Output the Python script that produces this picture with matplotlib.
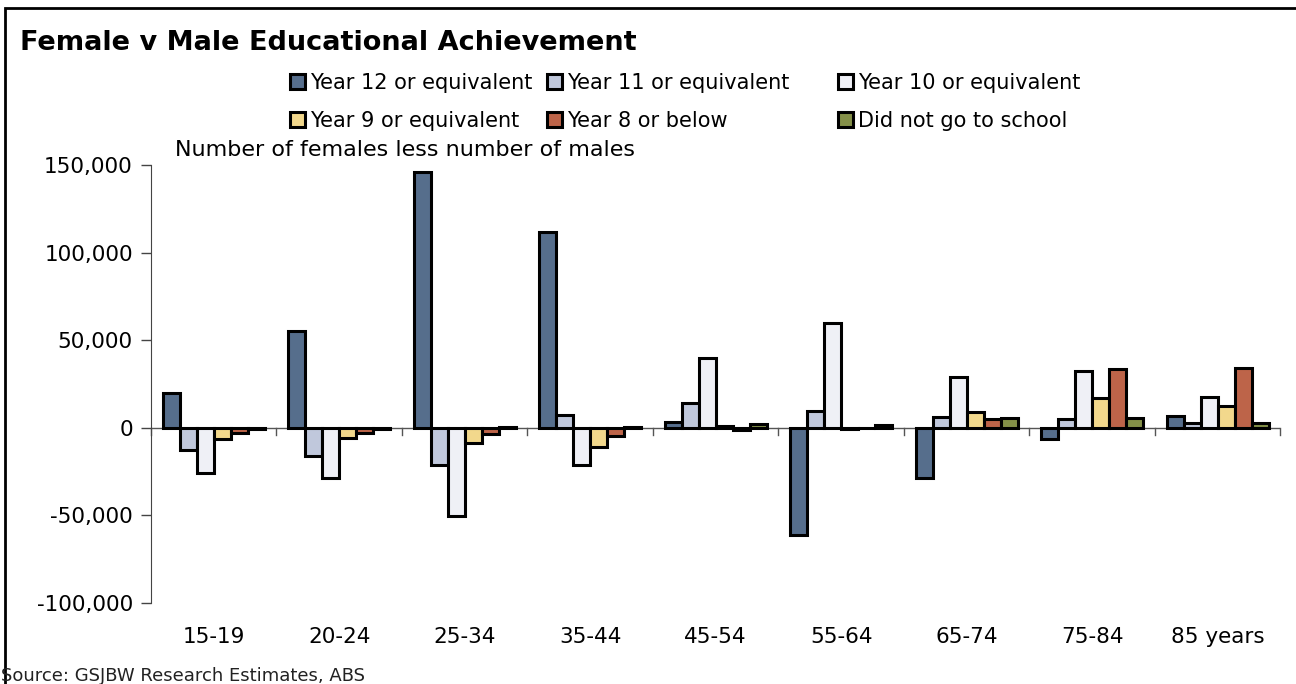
# -*- coding: utf-8 -*-

import numpy as np
import matplotlib as mpl
mpl.use('Agg')
import matplotlib.pyplot as plt
from matplotlib.patches import Rectangle
from matplotlib.ticker import FuncFormatter

age_groups = ['15-19', '20-24', '25-34', '35-44', '45-54', '55-64', '65-74', '75-84', '85 years']

series_names = ['Year 12 or equivalent', 'Year 11 or equivalent', 'Year 10 or equivalent',
                'Year 9 or equivalent', 'Year 8 or below', 'Did not go to school']

year12 = [20000, 55500, 146000, 112000, 3400, -61300, -28600, -6300, 6900]
year11 = [-12600, -16000, -21200, 7400, 14300, 9700, 6300, 5200, 2800]
year10 = [-25800, -28600, -50400, -21200, 40000, 59600, 29200, 32600, 17800]
year9 = [-6300, -5700, -8600, -10900, 1200, -800, 9000, 17000, 12600]
year8 = [-3000, -2800, -3400, -4600, -1000, 0, 5200, 33800, 34300]
no_school = [-500, -500, 300, 500, 2000, 1500, 5500, 5500, 2800]

colors = ['#566e8c', '#c0c8dc', '#eff0f6', '#f2d88c', '#bd6449', '#849048']

plt.rcParams['font.family'] = 'DejaVu Sans'

fig = plt.figure(figsize=(12.96, 6.84), dpi=100)
ax = fig.add_axes([0.1165, 0.1184, 0.8715, 0.6404])

all_series = [year12, year11, year10, year9, year8, no_school]
x = np.arange(len(age_groups))
width = 0.135
bars = []
for i, vals in enumerate(all_series):
    offset = (i - 2.5) * width
    b = ax.bar(x + offset, vals, width, color=colors[i], edgecolor='black',
               linewidth=2.2, label=series_names[i], zorder=3)
    bars.append(b)

ax.set_xlim(-0.5, len(age_groups) - 0.5)
ax.set_ylim(-100000, 150000)
ax.set_yticks([-100000, -50000, 0, 50000, 100000, 150000])
ax.yaxis.set_major_formatter(FuncFormatter(lambda v, p: '{:,.0f}'.format(v)))
ax.tick_params(axis='y', direction='out', length=7, width=1, labelsize=15.5, pad=6, color='#444444')

# x axis line at zero, category labels at the bottom
for s in ['top', 'right', 'bottom']:
    ax.spines[s].set_visible(False)
ax.spines['left'].set_color('#444444')
ax.axhline(0, color='#555555', linewidth=1, zorder=2)
ax.set_xticks(x)
ax.set_xticklabels(age_groups, fontsize=15.5)
ax.tick_params(axis='x', length=0, pad=17)
for b in np.arange(-0.5, len(age_groups) + 0.5, 1.0):
    ax.plot([b, b], [0, -4200], color='#555555', linewidth=1, zorder=2, clip_on=False)

# legend: one small legend per column, two rows each
col_x = [290, 547, 838]
col_items = [[0, 3], [1, 4], [2, 5]]
for cx, items in zip(col_x, col_items):
    fig.legend([bars[i] for i in items], [series_names[i] for i in items],
               loc='upper left', bbox_to_anchor=(cx / 1296, 1 - 73 / 684),
               frameon=False, fontsize=15, handlelength=0.7, handleheight=0.7,
               handletextpad=0.25, labelspacing=0.85, borderpad=0, borderaxespad=0)

fig.text(0.0155, 0.937, 'Female v Male Educational Achievement', fontsize=19.5,
         fontweight='bold', va='center', ha='left')
fig.text(0.135, 0.781, 'Number of females less number of males', fontsize=16,
         va='center', ha='left')
fig.text(0.001, 0.012, 'Source: GSJBW Research Estimates, ABS', fontsize=13,
         va='center', ha='left', color='#222222')

# outer frame
fig.patches.append(Rectangle((0.004, -0.02), 1.05, 1.008, transform=fig.transFigure,
                             fill=False, edgecolor='black', linewidth=2))

plt.savefig('out.png', dpi=100)
